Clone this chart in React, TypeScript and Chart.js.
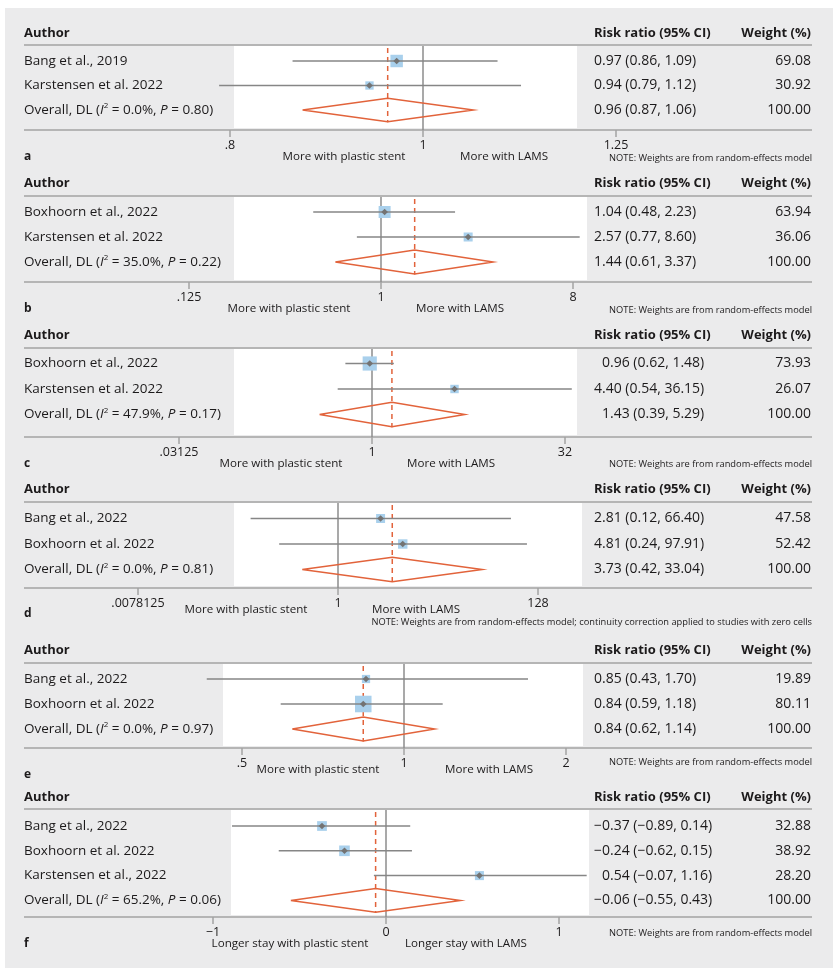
import React, { useEffect, useRef } from 'react';
import { Chart, registerables } from 'chart.js';
Chart.register(...registerables);

// ---------------- data ----------------
const aStudies = ['Bang et al., 2019', 'Karstensen et al. 2022'];
const aEst = [0.97, 0.94];
const aLow = [0.86, 0.79];
const aHigh = [1.09, 1.12];
const aWeight = [69.08, 30.92];
const aOverall = [0.96, 0.87, 1.06];
const aHet = ['0.0%', '0.80'];
const aTicks = [0.8, 1, 1.25];
const aTickLabels = ['.8', '1', '1.25'];

const bStudies = ['Boxhoorn et al., 2022', 'Karstensen et al. 2022'];
const bEst = [1.04, 2.57];
const bLow = [0.48, 0.77];
const bHigh = [2.23, 8.6];
const bWeight = [63.94, 36.06];
const bOverall = [1.44, 0.61, 3.37];
const bHet = ['35.0%', '0.22'];
const bTicks = [0.125, 1, 8];
const bTickLabels = ['.125', '1', '8'];

const cStudies = ['Boxhoorn et al., 2022', 'Karstensen et al. 2022'];
const cEst = [0.96, 4.4];
const cLow = [0.62, 0.54];
const cHigh = [1.48, 36.15];
const cWeight = [73.93, 26.07];
const cOverall = [1.43, 0.39, 5.29];
const cHet = ['47.9%', '0.17'];
const cTicks = [0.03125, 1, 32];
const cTickLabels = ['.03125', '1', '32'];

const dStudies = ['Bang et al., 2022', 'Boxhoorn et al. 2022'];
const dEst = [2.81, 4.81];
const dLow = [0.12, 0.24];
const dHigh = [66.4, 97.91];
const dWeight = [47.58, 52.42];
const dOverall = [3.73, 0.42, 33.04];
const dHet = ['0.0%', '0.81'];
const dTicks = [0.0078125, 1, 128];
const dTickLabels = ['.0078125', '1', '128'];

const eStudies = ['Bang et al., 2022', 'Boxhoorn et al. 2022'];
const eEst = [0.85, 0.84];
const eLow = [0.43, 0.59];
const eHigh = [1.7, 1.18];
const eWeight = [19.89, 80.11];
const eOverall = [0.84, 0.62, 1.14];
const eHet = ['0.0%', '0.97'];
const eTicks = [0.5, 1, 2];
const eTickLabels = ['.5', '1', '2'];

const fStudies = ['Bang et al., 2022', 'Boxhoorn et al. 2022', 'Karstensen et al., 2022'];
const fEst = [-0.37, -0.24, 0.54];
const fLow = [-0.89, -0.62, -0.07];
const fHigh = [0.14, 0.15, 1.16];
const fWeight = [32.88, 38.92, 28.2];
const fOverall = [-0.06, -0.55, 0.43];
const fHet = ['65.2%', '0.06'];
const fTicks = [-1, 0, 1];
const fTickLabels = ['\u22121', '0', '1'];

const favLams = ['More with plastic stent', 'More with LAMS'];
const favStay = ['Longer stay with plastic stent', 'Longer stay with LAMS'];
const noteStd = 'NOTE: Weights are from random-effects model';
const noteCC = 'NOTE: Weights are from random-effects model; continuity correction applied to studies with zero cells';

// ---------------- styles ----------------
const FAM = '"Open Sans", sans-serif';
const F = (size: number, weight = 'normal', style = 'normal') => `${style} ${weight} ${size}px ${FAM}`;
const TEXT = '#1c1a1b';
const GRID = '#a3a3a3';
const CI = '#868686';
const MARK = '#737373';
const BOX = '#a9d0ec';
const ORANGE = '#e2633b';
const BG = '#ebebec';

type PanelData = {
  letter: string; studies: string[]; est: number[]; low: number[]; high: number[]; weight: number[];
  overall: number[]; het: string[]; ticks: number[]; tickLabels: string[]; log: boolean; ref: number;
  fav: string[]; note: string;
};
type PanelLayout = {
  top: number; bottom: number; authorY: number; ruleY: number; whiteL: number; whiteR: number; whiteTop: number;
  row1: number; step: number; axisY: number; tick0: number; tick1: number; favLX: number; favRX: number;
  favY: number; letterY: number; noteY: number; boxK: number;
};

const PANELS: { d: PanelData; l: PanelLayout }[] = [
  {
    d: { letter: 'a', studies: aStudies, est: aEst, low: aLow, high: aHigh, weight: aWeight, overall: aOverall, het: aHet, ticks: aTicks, tickLabels: aTickLabels, log: true, ref: 1, fav: favLams, note: noteStd },
    l: { top: 8, bottom: 170, authorY: 33, ruleY: 45, whiteL: 234, whiteR: 577, whiteTop: 46, row1: 61, step: 24.5, axisY: 130, tick0: 230, tick1: 616, favLX: 344, favRX: 504, favY: 157, letterY: 157, noteY: 158, boxK: 1.5 },
  },
  {
    d: { letter: 'b', studies: bStudies, est: bEst, low: bLow, high: bHigh, weight: bWeight, overall: bOverall, het: bHet, ticks: bTicks, tickLabels: bTickLabels, log: true, ref: 1, fav: favLams, note: noteStd },
    l: { top: 170, bottom: 322, authorY: 183, ruleY: 196, whiteL: 234, whiteR: 587, whiteTop: 197, row1: 212, step: 25, axisY: 282, tick0: 189, tick1: 573, favLX: 289, favRX: 460, favY: 309, letterY: 309, noteY: 310, boxK: 1.5 },
  },
  {
    d: { letter: 'c', studies: cStudies, est: cEst, low: cLow, high: cHigh, weight: cWeight, overall: cOverall, het: cHet, ticks: cTicks, tickLabels: cTickLabels, log: true, ref: 1, fav: favLams, note: noteStd },
    l: { top: 322, bottom: 476, authorY: 335, ruleY: 348, whiteL: 234, whiteR: 577, whiteTop: 349, row1: 363.5, step: 25.5, axisY: 437, tick0: 179, tick1: 565, favLX: 281, favRX: 451, favY: 464, letterY: 464, noteY: 464, boxK: 1.65 },
  },
  {
    d: { letter: 'd', studies: dStudies, est: dEst, low: dLow, high: dHigh, weight: dWeight, overall: dOverall, het: dHet, ticks: dTicks, tickLabels: dTickLabels, log: true, ref: 1, fav: favLams, note: noteCC },
    l: { top: 476, bottom: 634, authorY: 489, ruleY: 502, whiteL: 234, whiteR: 582, whiteTop: 503, row1: 518.5, step: 25.5, axisY: 588, tick0: 138, tick1: 538, favLX: 246, favRX: 416, favY: 610, letterY: 614, noteY: 622, boxK: 1.3 },
  },
  {
    d: { letter: 'e', studies: eStudies, est: eEst, low: eLow, high: eHigh, weight: eWeight, overall: eOverall, het: eHet, ticks: eTicks, tickLabels: eTickLabels, log: true, ref: 1, fav: favLams, note: noteStd },
    l: { top: 634, bottom: 782, authorY: 650, ruleY: 663, whiteL: 223, whiteR: 583, whiteTop: 664, row1: 679, step: 25, axisY: 748, tick0: 242, tick1: 566, favLX: 318, favRX: 489, favY: 770, letterY: 775, noteY: 762, boxK: 1.85 },
  },
  {
    d: { letter: 'f', studies: fStudies, est: fEst, low: fLow, high: fHigh, weight: fWeight, overall: fOverall, het: fHet, ticks: fTicks, tickLabels: fTickLabels, log: false, ref: 0, fav: favStay, note: noteStd },
    l: { top: 782, bottom: 968, authorY: 797, ruleY: 809, whiteL: 231, whiteR: 589, whiteTop: 810, row1: 826, step: 24.8, axisY: 917, tick0: 213, tick1: 559, favLX: 290, favRX: 466, favY: 944, letterY: 944, noteY: 933, boxK: 1.7 },
  },
];

const fmt = (v: number) => (v < 0 ? '\u2212' : '') + Math.abs(v).toFixed(2);
const COL_RR = 594;
const COL_W = 811;
const LINE_L = 24;
const LINE_R = 812;
const NAME_SIZE = 13.5;
const NUM_SIZE = 14;

function hline(ctx: CanvasRenderingContext2D, x0: number, x1: number, y: number, color: string, w: number) {
  ctx.save();
  ctx.strokeStyle = color;
  ctx.lineWidth = w;
  ctx.beginPath();
  ctx.moveTo(x0, y);
  ctx.lineTo(x1, y);
  ctx.stroke();
  ctx.restore();
}

function ForestPanel({ d, l }: { d: PanelData; l: PanelLayout }) {
  const ref = useRef<HTMLCanvasElement | null>(null);
  const H = l.bottom - l.top;
  useEffect(() => {
    const canvas = ref.current;
    if (!canvas) return;
    const n = d.studies.length;
    const yMin = 1 - (l.row1 - l.whiteTop) / l.step;
    const yMax = yMin + (l.axisY - l.whiteTop) / l.step;
    const pts = d.est.map((e, i) => ({ x: e, y: i + 1 }));
    const oy = n + 1;
    const hh = 0.48;
    const [oe, ol, oh] = d.overall;
    const diamond = [
      { x: ol, y: oy }, { x: oe, y: oy - hh }, { x: oh, y: oy }, { x: oe, y: oy + hh }, { x: ol, y: oy },
    ];
    const Y = (v: number) => v - l.top;

    const datasets: any[] = [
      { type: 'scatter', data: pts, pointStyle: 'rectRot', pointRadius: 3.3, backgroundColor: MARK, borderWidth: 0, order: 0, clip: false },
      ...d.studies.map((_, i) => ({
        type: 'line', data: [{ x: d.low[i], y: i + 1 }, { x: d.high[i], y: i + 1 }],
        borderColor: CI, borderWidth: 1.5, pointRadius: 0, order: 1, clip: false, fill: false,
      })),
      {
        type: 'scatter', data: pts, pointStyle: 'rect',
        pointRadius: d.weight.map((w) => (l.boxK * Math.sqrt(w)) / Math.SQRT2),
        backgroundColor: BOX, borderWidth: 0, order: 2, clip: false,
      },
      { type: 'line', data: diamond, borderColor: ORANGE, borderWidth: 1.5, pointRadius: 0, order: 1, clip: false, fill: false, tension: 0 },
    ];

    const plugin = {
      id: 'forest' + d.letter,
      beforeDatasetsDraw(chart: any) {
        const ctx: CanvasRenderingContext2D = chart.ctx;
        const xs = chart.scales.x;
        const ys = chart.scales.y;
        ctx.save();
        // white plot region
        ctx.fillStyle = '#ffffff';
        ctx.fillRect(l.whiteL, Y(l.whiteTop), l.whiteR - l.whiteL, l.axisY - 2 - l.whiteTop);
        // header
        ctx.fillStyle = TEXT;
        ctx.textBaseline = 'middle';
        ctx.font = F(13, 'bold');
        ctx.textAlign = 'left';
        ctx.fillText('Author', LINE_L, Y(l.authorY));
        ctx.fillText('Risk ratio (95% CI)', COL_RR, Y(l.authorY));
        ctx.textAlign = 'right';
        ctx.fillText('Weight (%)', COL_W, Y(l.authorY));
        hline(ctx, LINE_L, LINE_R, Y(l.ruleY), GRID, 1.5);
        hline(ctx, LINE_L, LINE_R, Y(l.axisY), GRID, 1.5);
        // reference line
        const rx = xs.getPixelForValue(d.ref);
        ctx.strokeStyle = '#8c8c8c';
        ctx.lineWidth = 1.5;
        ctx.beginPath();
        ctx.moveTo(rx, Y(l.whiteTop));
        ctx.lineTo(rx, Y(l.axisY));
        ctx.stroke();
        // overall dashed line
        const ox = xs.getPixelForValue(oe);
        ctx.strokeStyle = ORANGE;
        ctx.setLineDash([5, 4]);
        ctx.beginPath();
        ctx.moveTo(ox, Y(l.whiteTop) + 2);
        ctx.lineTo(ox, ys.getPixelForValue(oy + 0.5));
        ctx.stroke();
        ctx.setLineDash([]);
        // ticks
        ctx.strokeStyle = GRID;
        ctx.fillStyle = TEXT;
        ctx.font = F(12.5);
        ctx.textAlign = 'center';
        d.ticks.forEach((t, i) => {
          const tx = xs.getPixelForValue(t);
          ctx.beginPath();
          ctx.moveTo(tx, Y(l.axisY));
          ctx.lineTo(tx, Y(l.axisY) + 7);
          ctx.stroke();
          ctx.fillText(d.tickLabels[i], tx, Y(l.axisY) + 15);
        });
        // study rows
        const rrTexts = d.studies.map((_, i) => `${fmt(d.est[i])} (${fmt(d.low[i])}, ${fmt(d.high[i])})`);
        rrTexts.push(`${fmt(oe)} (${fmt(ol)}, ${fmt(oh)})`);
        const wTexts = d.weight.map((w) => w.toFixed(2));
        wTexts.push((100).toFixed(2));
        ctx.font = F(NUM_SIZE);
        const rrW = Math.max(...rrTexts.map((t) => ctx.measureText(t).width));
        for (let i = 0; i <= n; i++) {
          const ry = ys.getPixelForValue(i + 1);
          ctx.font = F(NAME_SIZE);
          ctx.textAlign = 'left';
          if (i < n) {
            ctx.fillText(d.studies[i], LINE_L, ry);
          } else {
            const segs: [string, string, number][] = [
              ['Overall, DL (', F(NAME_SIZE), 0],
              ['I', F(NAME_SIZE, 'normal', 'italic'), 0],
              ['2', F(8), -4],
              [` = ${d.het[0]}, `, F(NAME_SIZE), 0],
              ['P', F(NAME_SIZE, 'normal', 'italic'), 0],
              [` = ${d.het[1]})`, F(NAME_SIZE), 0],
            ];
            let x = LINE_L;
            segs.forEach(([t, f, dy]) => {
              ctx.font = f;
              ctx.fillText(t, x, ry + dy);
              x += ctx.measureText(t).width;
            });
          }
          ctx.font = F(NUM_SIZE);
          ctx.textAlign = 'right';
          ctx.fillText(rrTexts[i], COL_RR + rrW, ry);
          ctx.fillText(wTexts[i], COL_W, ry);
        }
        // favour labels
        ctx.font = F(11.6);
        ctx.textAlign = 'center';
        ctx.fillText(d.fav[0], l.favLX, Y(l.favY));
        ctx.fillText(d.fav[1], l.favRX, Y(l.favY));
        // letter
        ctx.font = F(12, 'bold');
        ctx.textAlign = 'left';
        ctx.fillText(d.letter, LINE_L, Y(l.letterY));
        // note
        ctx.font = F(9.3);
        ctx.textAlign = 'right';
        ctx.fillText(d.note, LINE_R, Y(l.noteY));
        ctx.restore();
      },
    };

    const chart = new Chart(canvas, {
      type: 'scatter',
      data: { datasets },
      options: {
        responsive: false,
        animation: false,
        events: [],
        layout: { padding: { left: l.tick0, right: 838 - l.tick1, top: l.whiteTop - l.top, bottom: l.bottom - l.axisY } },
        scales: {
          x: { type: d.log ? 'logarithmic' : 'linear', min: d.ticks[0], max: d.ticks[d.ticks.length - 1], bounds: 'data', display: false },
          y: { type: 'linear', reverse: true, min: yMin, max: yMax, display: false },
        },
        plugins: { legend: { display: false }, tooltip: { enabled: false } },
      } as any,
      plugins: [plugin],
    });
    return () => chart.destroy();
  }, [d, l]);
  return (
    <canvas
      ref={ref}
      width={838}
      height={H}
      style={{ position: 'absolute', left: 0, top: l.top, width: 838, height: H }}
    />
  );
}

export default function App() {
  return (
    <div style={{ position: 'absolute', left: 0, top: 0, width: 838, height: 974, background: '#ffffff', overflow: 'hidden' }}>
      <div style={{ position: 'absolute', left: 5, top: 8, width: 828, height: 960, background: BG }} />
      {PANELS.map((p) => (
        <ForestPanel key={p.d.letter} d={p.d} l={p.l} />
      ))}
    </div>
  );
}
